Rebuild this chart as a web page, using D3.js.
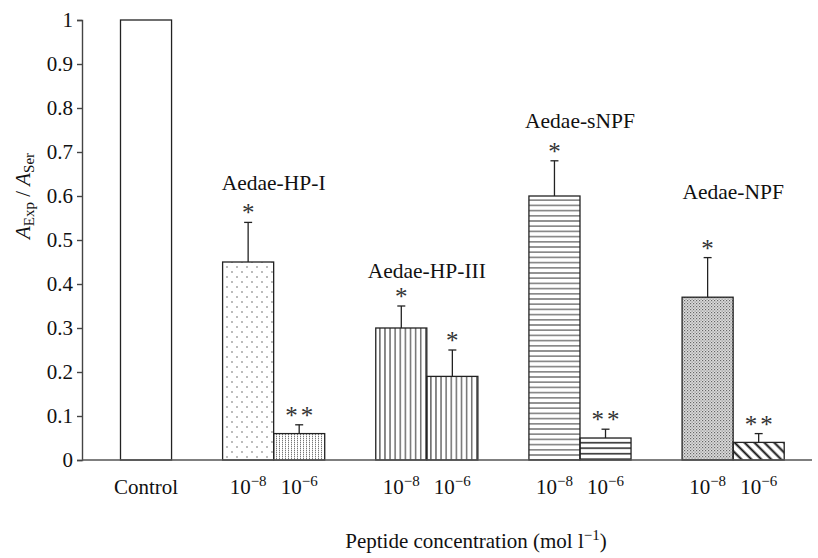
<!DOCTYPE html>
<html>
<head>
<meta charset="utf-8">
<script src="https://cdn.jsdelivr.net/npm/d3@7"></script>
</head>
<body style="margin:0">
<svg id="chart"></svg>
<script>
// data
const peptides = ["Aedae-HP-I", "Aedae-HP-III", "Aedae-sNPF", "Aedae-NPF"];
const doses = ["−8", "−6"];
const controlValue = 1;
const lowDose = [0.45, 0.30, 0.60, 0.37];      // 10^-8
const lowErr = [0.09, 0.05, 0.08, 0.09];
const highDose = [0.06, 0.19, 0.05, 0.04];     // 10^-6
const highErr = [0.02, 0.06, 0.02, 0.02];
const lowSig = ["*", "*", "*", "*"];
const highSig = ["**", "*", "**", "**"];
const labelLevel = [0.63, 0.43, 0.77, 0.61];
const yTicks = [0, 0.1, 0.2, 0.3, 0.4, 0.5, 0.6, 0.7, 0.8, 0.9, 1];

const width = 818, height = 558;
const FONT = "'Liberation Serif'";
const svg = d3.select("#chart").attr("width", width).attr("height", height);

// slots: control, gap, then two bars per peptide with a gap between groups
const slots = ["Control", "g0"];
peptides.forEach((p, i) => {
  slots.push(p + "|0", p + "|1");
  if (i < peptides.length - 1) slots.push("g" + (i + 1));
});

const x = d3.scaleBand().domain(slots).range([120.5, 784.2]).padding(0);
const y = d3.scaleLinear().domain([0, 1]).range([460, 20]);

const bars = [{ key: "Control", value: controlValue, err: 0, sig: "", pat: "none" }];
const pats = [["dots", "fineV"], ["vert", "vert"], ["horiz", "horiz2"], ["hatch", "diag"]];
peptides.forEach((p, i) => {
  bars.push({ key: p + "|0", value: lowDose[i], err: lowErr[i], sig: lowSig[i], pat: pats[i][0] });
  bars.push({ key: p + "|1", value: highDose[i], err: highErr[i], sig: highSig[i], pat: pats[i][1] });
});

// fill patterns
const defs = svg.append("defs");
let p = defs.append("pattern").attr("id", "dots").attr("patternUnits", "userSpaceOnUse")
  .attr("width", 10).attr("height", 10);
p.append("circle").attr("cx", 2).attr("cy", 2).attr("r", 0.7).attr("fill", "#444");
p.append("circle").attr("cx", 7).attr("cy", 7).attr("r", 0.7).attr("fill", "#444");

p = defs.append("pattern").attr("id", "fineV").attr("patternUnits", "userSpaceOnUse")
  .attr("width", 3).attr("height", 2);
p.append("rect").attr("x", 0).attr("y", 0).attr("width", 1).attr("height", 1.3).attr("fill", "#777");

p = defs.append("pattern").attr("id", "vert").attr("patternUnits", "userSpaceOnUse")
  .attr("width", 5.1).attr("height", 5);
p.append("line").attr("x1", 2.5).attr("x2", 2.5).attr("y1", 0).attr("y2", 5)
  .attr("stroke", "#222").attr("stroke-width", 1);

p = defs.append("pattern").attr("id", "horiz").attr("patternUnits", "userSpaceOnUse")
  .attr("width", 5).attr("height", 5.2);
p.append("line").attr("x1", 0).attr("x2", 5).attr("y1", 2.6).attr("y2", 2.6)
  .attr("stroke", "#333").attr("stroke-width", 1);

p = defs.append("pattern").attr("id", "horiz2").attr("patternUnits", "userSpaceOnUse")
  .attr("width", 5).attr("height", 5.5);
p.append("line").attr("x1", 0).attr("x2", 5).attr("y1", 2.7).attr("y2", 2.7)
  .attr("stroke", "#111").attr("stroke-width", 1.4);

p = defs.append("pattern").attr("id", "hatch").attr("patternUnits", "userSpaceOnUse")
  .attr("width", 3).attr("height", 3);
p.append("rect").attr("width", 3).attr("height", 3).attr("fill", "#ddd");
p.append("rect").attr("x", 0).attr("y", 0).attr("width", 1.2).attr("height", 1.2).attr("fill", "#666");
p.append("rect").attr("x", 1.5).attr("y", 1.5).attr("width", 1.2).attr("height", 1.2).attr("fill", "#888");

p = defs.append("pattern").attr("id", "diag").attr("patternUnits", "userSpaceOnUse")
  .attr("width", 7).attr("height", 7).attr("patternTransform", "rotate(-45)");
p.append("line").attr("x1", 3.5).attr("x2", 3.5).attr("y1", 0).attr("y2", 7)
  .attr("stroke", "#111").attr("stroke-width", 2);

// bars
const bw = x.bandwidth();
svg.append("g").selectAll("rect")
  .data(bars)
  .join("rect")
  .attr("x", d => x(d.key))
  .attr("y", d => y(d.value))
  .attr("width", bw)
  .attr("height", d => y(0) - y(d.value))
  .attr("fill", d => d.pat === "none" ? "#fff" : `url(#${d.pat})`)
  .attr("stroke", "#222")
  .attr("stroke-width", 1.3);

// error bars (upper only)
const eb = svg.append("g").attr("stroke", "#222").attr("stroke-width", 1.3);
bars.filter(d => d.err > 0).forEach(d => {
  const cx = x(d.key) + bw / 2;
  eb.append("line").attr("x1", cx).attr("x2", cx)
    .attr("y1", y(d.value)).attr("y2", y(d.value + d.err));
  eb.append("line").attr("x1", cx - 4).attr("x2", cx + 4)
    .attr("y1", y(d.value + d.err)).attr("y2", y(d.value + d.err));
});

// significance stars
svg.selectAll("text.sig")
  .data(bars.filter(d => d.sig))
  .join("text")
  .attr("class", "sig")
  .attr("x", d => x(d.key) + bw / 2 + (d.sig.length > 1 ? 1.5 : 0))
  .attr("y", d => y(d.value + d.err) - 1)
  .attr("text-anchor", "middle")
  .attr("letter-spacing", d => d.sig.length > 1 ? "3px" : null)
  .style("font-family", FONT)
  .style("font-size", "25px")
  .style("fill", "#333")
  .text(d => d.sig);

// peptide labels
svg.selectAll("text.pep")
  .data(peptides)
  .join("text")
  .attr("class", "pep")
  .attr("x", d => x(d + "|0") + bw)
  .attr("y", (d, i) => y(labelLevel[i]) + 7)
  .attr("text-anchor", "middle")
  .style("font-family", FONT)
  .style("font-size", "21.5px")
  .style("fill", "#111")
  .text(d => d);

// y axis
const yAxis = d3.axisLeft(y).tickValues(yTicks).tickSize(5).tickPadding(4)
  .tickFormat(d3.format("~g"));
const gy = svg.append("g").attr("transform", "translate(82,0)").call(yAxis)
  .attr("font-family", FONT).attr("font-size", 21);
gy.selectAll("path, line").attr("stroke", "#444").attr("stroke-width", 1.4);
gy.selectAll("text").attr("fill", "#111").style("font-size", "21px")
  .style("font-family", FONT);

// x axis baseline
svg.append("line").attr("x1", 82).attr("x2", 812).attr("y1", y(0)).attr("y2", y(0))
  .attr("stroke", "#555").attr("stroke-width", 1.6);

// x tick labels
svg.append("text").attr("x", x("Control") + bw / 2).attr("y", 494)
  .attr("text-anchor", "middle").style("font-family", FONT).style("font-size", "21px")
  .style("fill", "#111").text("Control");
peptides.forEach(pp => {
  doses.forEach((dz, j) => {
    const t = svg.append("text").attr("x", x(pp + "|" + j) + bw / 2).attr("y", 494)
      .attr("text-anchor", "middle").style("font-family", FONT).style("font-size", "21px")
      .style("fill", "#111");
    t.append("tspan").text("10");
    t.append("tspan").attr("dy", -8).style("font-size", "15px").text(dz);
  });
});

// x axis title
const xt = svg.append("text").attr("x", 476).attr("y", 548).attr("text-anchor", "middle")
  .style("font-family", FONT).style("font-size", "21px").style("fill", "#111");
xt.append("tspan").text("Peptide concentration (mol l");
xt.append("tspan").attr("dy", -8).style("font-size", "15px").text("−1");
xt.append("tspan").attr("dy", 8).text(")");

// y axis title
const yt = svg.append("text").attr("transform", `translate(30,${y(0.6)}) rotate(-90)`)
  .attr("text-anchor", "middle").style("font-family", FONT).style("font-size", "21px")
  .style("fill", "#111");
yt.append("tspan").style("font-style", "italic").text("A");
yt.append("tspan").attr("dy", 4).style("font-size", "15px").text("Exp");
yt.append("tspan").attr("dy", -4).text(" / ");
yt.append("tspan").style("font-style", "italic").text("A");
yt.append("tspan").attr("dy", 4).style("font-size", "15px").text("Ser");
</script>
</body>
</html>
